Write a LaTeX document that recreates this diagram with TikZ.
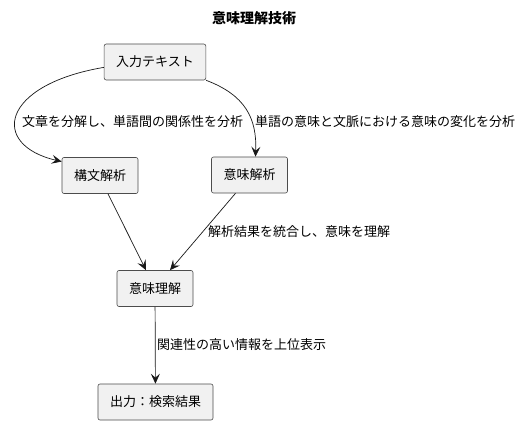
\documentclass[tikz,border=0pt]{standalone}
\usepackage{fontspec}
\setmainfont{Noto Sans CJK JP}
\usetikzlibrary{arrows.meta}

\begin{document}
\begin{tikzpicture}[x=1pt,y=-1pt,
    box/.style={draw=black!70,fill=black!5.5,rounded corners=2pt,line width=0.6pt,minimum height=36pt,inner xsep=12pt,font=\fontsize{13}{15}\selectfont},
    lbl/.style={anchor=west,inner sep=0pt,font=\fontsize{13}{15}\selectfont},
    flow/.style={draw=black!90,line width=0.7pt,-{Stealth[length=10pt,width=9pt,inset=4pt]}}]
          \useasboundingbox[fill=white] (0,0) rectangle (521,425);
          \node[font=\fontsize{14}{16}\selectfont\bfseries] (title) at (254,18) {意味理解技術};
          \node[box] (input) at (155,62) {入力テキスト};
          \node[box] (syntax) at (100,175.5) {構文解析};
          \node[box] (semantic) at (249.5,175) {意味解析};
          \node[box] (understand) at (155,288.5) {意味理解};
          \node[box] (result) at (155.5,402) {出力：検索結果};
          % edges
          \draw[flow] (input.186) .. controls (0,85) and (-10,145) .. (syntax.160);
          \draw[flow] (input.south east) .. controls (245,95) and (257,118) .. ([xshift=6pt]semantic.north);
          \draw[flow] ([xshift=8pt]syntax.south) -- ([xshift=-9pt]understand.north);
          \draw[flow] ([xshift=-14pt]semantic.south) -- ([xshift=15pt]understand.north);
          \draw[flow] (understand) -- (result);
          % labels
          \node[lbl] (l1) at (22,122) {文章を分解し、単語間の関係性を分析};
          \node[lbl] (l2) at (255,122) {単語の意味と文脈における意味の変化を分析};
          \node[lbl] (l3) at (208,232) {解析結果を統合し、意味を理解};
          \node[lbl] (l4) at (157,345) {関連性の高い情報を上位表示};
        \end{tikzpicture}
\end{document}
